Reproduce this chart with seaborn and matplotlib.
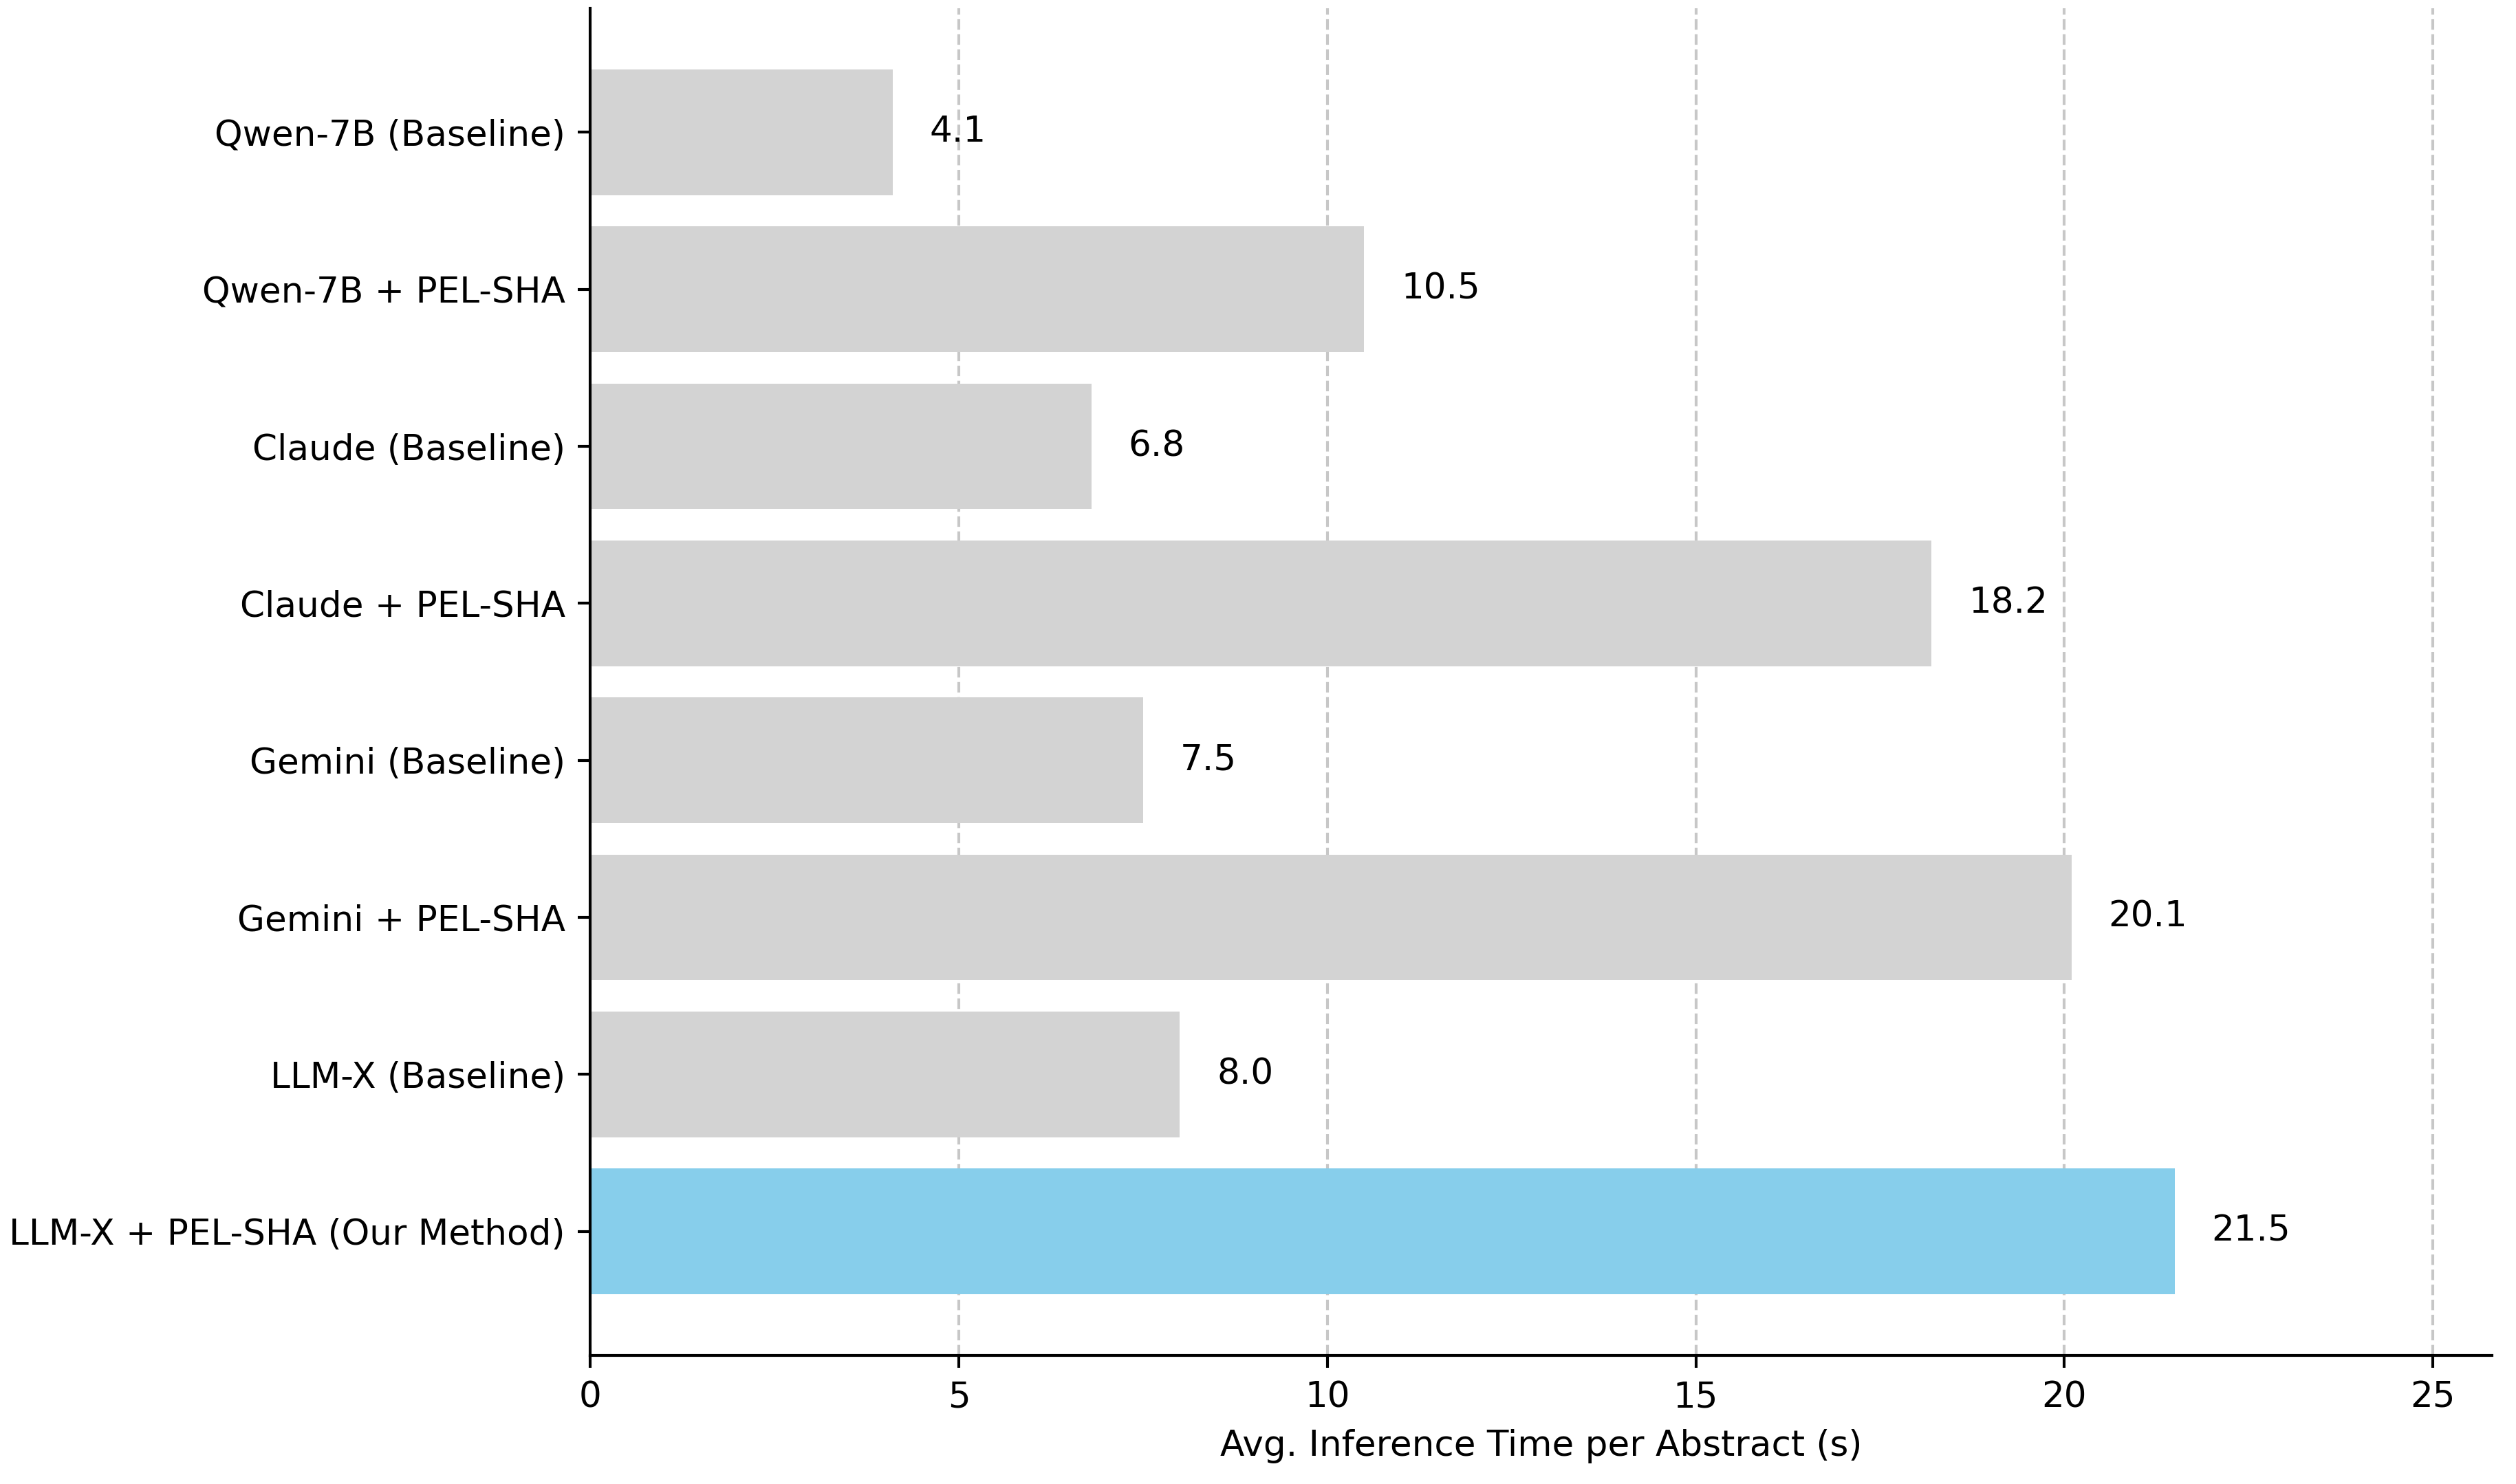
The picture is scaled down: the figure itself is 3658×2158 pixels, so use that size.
import matplotlib
matplotlib.use("Agg")
import matplotlib.pyplot as plt
import seaborn as sns
import pandas as pd

# Data
models = [
    "Qwen-7B (Baseline)",
    "Qwen-7B + PEL-SHA",
    "Claude (Baseline)",
    "Claude + PEL-SHA",
    "Gemini (Baseline)",
    "Gemini + PEL-SHA",
    "LLM-X (Baseline)",
    "LLM-X + PEL-SHA (Our Method)",
]
times = [4.1, 10.5, 6.8, 18.2, 7.5, 20.1, 8.0, 21.5]
colors = ["lightgrey"] * 7 + ["skyblue"]

df = pd.DataFrame({"model": models, "time": times})

plt.rcParams["font.family"] = ["DejaVu Sans"]
k = 1.24  # reference was rendered a bit larger than 300 dpi defaults
fs = 10 * k

fig, ax = plt.subplots(figsize=(3658 / 300, 2158 / 300), dpi=300)
fig.subplots_adjust(left=0.2346, right=0.9904, top=0.9944, bottom=0.0867)

sns.barplot(data=df, x="time", y="model", hue="model", palette=colors,
            orient="h", width=0.8, saturation=1, legend=False, ax=ax)

# matplotlib-style margins around the bars
n = len(models)
pad = 0.05 * (n - 1 + 0.8)
ax.set_ylim(n - 1 + 0.4 + pad, -0.4 - pad)
ax.set_xlim(0, max(times) * 1.2)

for i, v in enumerate(times):
    ax.text(v + 0.5, i, f"{v:.1f}", va="center", ha="left", fontsize=fs)

ax.set_xlabel("Avg. Inference Time per Abstract (s)", fontsize=fs, labelpad=4 * k)
ax.set_ylabel("")
ax.tick_params(axis="both", labelsize=fs, length=3.5 * k, width=0.8 * k, pad=3.5 * k)
for s in ax.spines.values():
    s.set_linewidth(0.8 * k)
ax.grid(axis="x", linestyle="--", color="#b0b0b0", alpha=0.7, linewidth=0.8 * k)
ax.set_axisbelow(True)
sns.despine(ax=ax)

fig.savefig("out.png", dpi=300)
